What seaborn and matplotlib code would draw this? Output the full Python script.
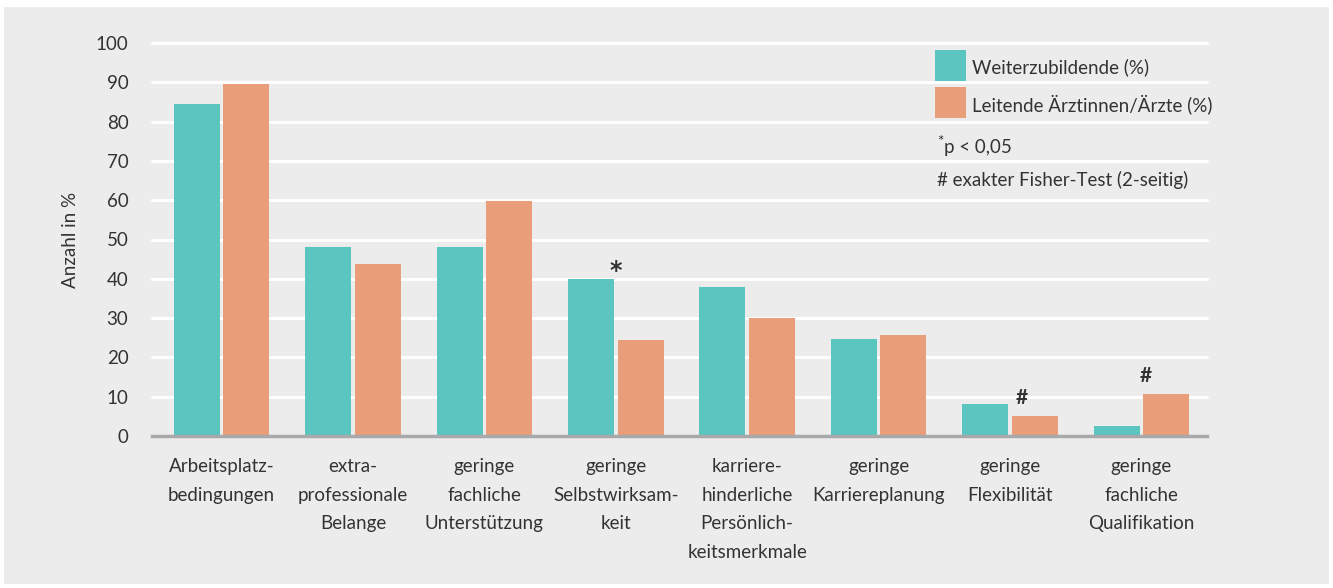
import pandas as pd
import matplotlib.pyplot as plt
import seaborn as sns
from matplotlib.patches import Rectangle

# Daten
kategorien = ["Arbeitsplatz-\nbedingungen", "extra-\nprofessionale\nBelange",
              "geringe\nfachliche\nUnterstützung", "geringe\nSelbstwirksam-\nkeit",
              "karriere-\nhinderliche\nPersönlich-\nkeitsmerkmale", "geringe\nKarriereplanung",
              "geringe\nFlexibilität", "geringe\nfachliche\nQualifikation"]
weiterzubildende = [84.5, 48.1, 48.0, 40.0, 37.9, 24.7, 8.1, 2.5]
leitende = [89.6, 43.8, 59.8, 24.4, 30.0, 25.7, 5.1, 10.7]
serien = ["Weiterzubildende (%)", "Leitende Ärztinnen/Ärzte (%)"]
farben = ["#5bc5bf", "#e99d79"]
# Signifikanzmarken: (Gruppe, x-Versatz, y, Zeichen)
marken = [(3, 0.0, 42.0, "*"), (6, 0.09, 7.2, "#"), (7, 0.03, 12.8, "#")]

df = pd.DataFrame({
    "kategorie": kategorien * 2,
    "wert": weiterzubildende + leitende,
    "serie": [serien[0]] * len(kategorien) + [serien[1]] * len(kategorien),
})

sns.set_style("white")
plt.rcParams['font.family'] = ['Lato', 'DejaVu Sans']
textfarbe = "#333333"
fs = 13.5

fig = plt.figure(figsize=(13.33, 5.88), dpi=100)
fig.patch.set_facecolor("white")
# grauer Hintergrund mit weissem Rand
fig.patches.append(Rectangle((4 / 1333, 4 / 588), 1325 / 1333, 577 / 588,
                             transform=fig.transFigure, facecolor="#ebeceb",
                             edgecolor="none", zorder=-10))

ax = fig.add_axes([152 / 1333, (588 - 436) / 588, 1055 / 1333, 393 / 588])
ax.set_facecolor("none")

sns.barplot(data=df, x="kategorie", y="wert", hue="serie", palette=farben,
            saturation=1, width=0.754, gap=0.072, legend=False, ax=ax, zorder=3,
            edgecolor="none", linewidth=0)

ax.set_ylim(0, 100)
ax.set_xlim(-0.53, 7.5)
ax.set_yticks(range(0, 101, 10))
ax.yaxis.grid(True, color="white", linewidth=2.2, zorder=0)
for gl in ax.get_ygridlines():
    gl.set_clip_on(False)
for s in ["top", "right", "left"]:
    ax.spines[s].set_visible(False)
ax.spines["bottom"].set_color("#a8a9ab")
ax.spines["bottom"].set_linewidth(2.5)
ax.spines["bottom"].set_zorder(4)

ax.tick_params(axis="y", length=0, pad=17, labelsize=fs, labelcolor=textfarbe)
ax.tick_params(axis="x", length=0, pad=16, labelsize=fs, labelcolor=textfarbe)
for lab in ax.get_xticklabels():
    lab.set_linespacing(1.82)
    lab.set_verticalalignment("top")

ax.set_xlabel("")
ax.set_ylabel("Anzahl in %", fontsize=fs, color=textfarbe, labelpad=12)

for g, dx, y, zeichen in marken:
    if zeichen == "*":
        ax.text(g + dx, y, zeichen, ha="center", va="center", fontsize=17,
                fontweight="bold", color=textfarbe, family="DejaVu Sans")
    else:
        ax.text(g + dx, y, zeichen, ha="center", va="bottom", fontsize=15,
                fontweight="bold", color=textfarbe)

# Legende von Hand, quadratische Farbfelder
for i, (name, farbe) in enumerate(zip(serien, farben)):
    y0 = 50 + i * 37
    fig.patches.append(Rectangle((935 / 1333, 1 - (y0 + 31) / 588), 31 / 1333, 31 / 588,
                                 transform=fig.transFigure, facecolor=farbe,
                                 edgecolor="none", zorder=5))
    fig.text(972 / 1333, 1 - (y0 + 17) / 588, name, fontsize=fs, color=textfarbe,
             ha="left", va="center")

fig.text(937 / 1333, 1 - 142 / 588, "*", fontsize=11, color=textfarbe, ha="left", va="center")
fig.text(944 / 1333, 1 - 147 / 588, "p < 0,05", fontsize=fs, color=textfarbe,
         ha="left", va="center")
fig.text(937 / 1333, 1 - 180 / 588, "# exakter Fisher-Test (2-seitig)", fontsize=fs,
         color=textfarbe, ha="left", va="center")

fig.savefig("out.png", dpi=100, facecolor=fig.get_facecolor())
